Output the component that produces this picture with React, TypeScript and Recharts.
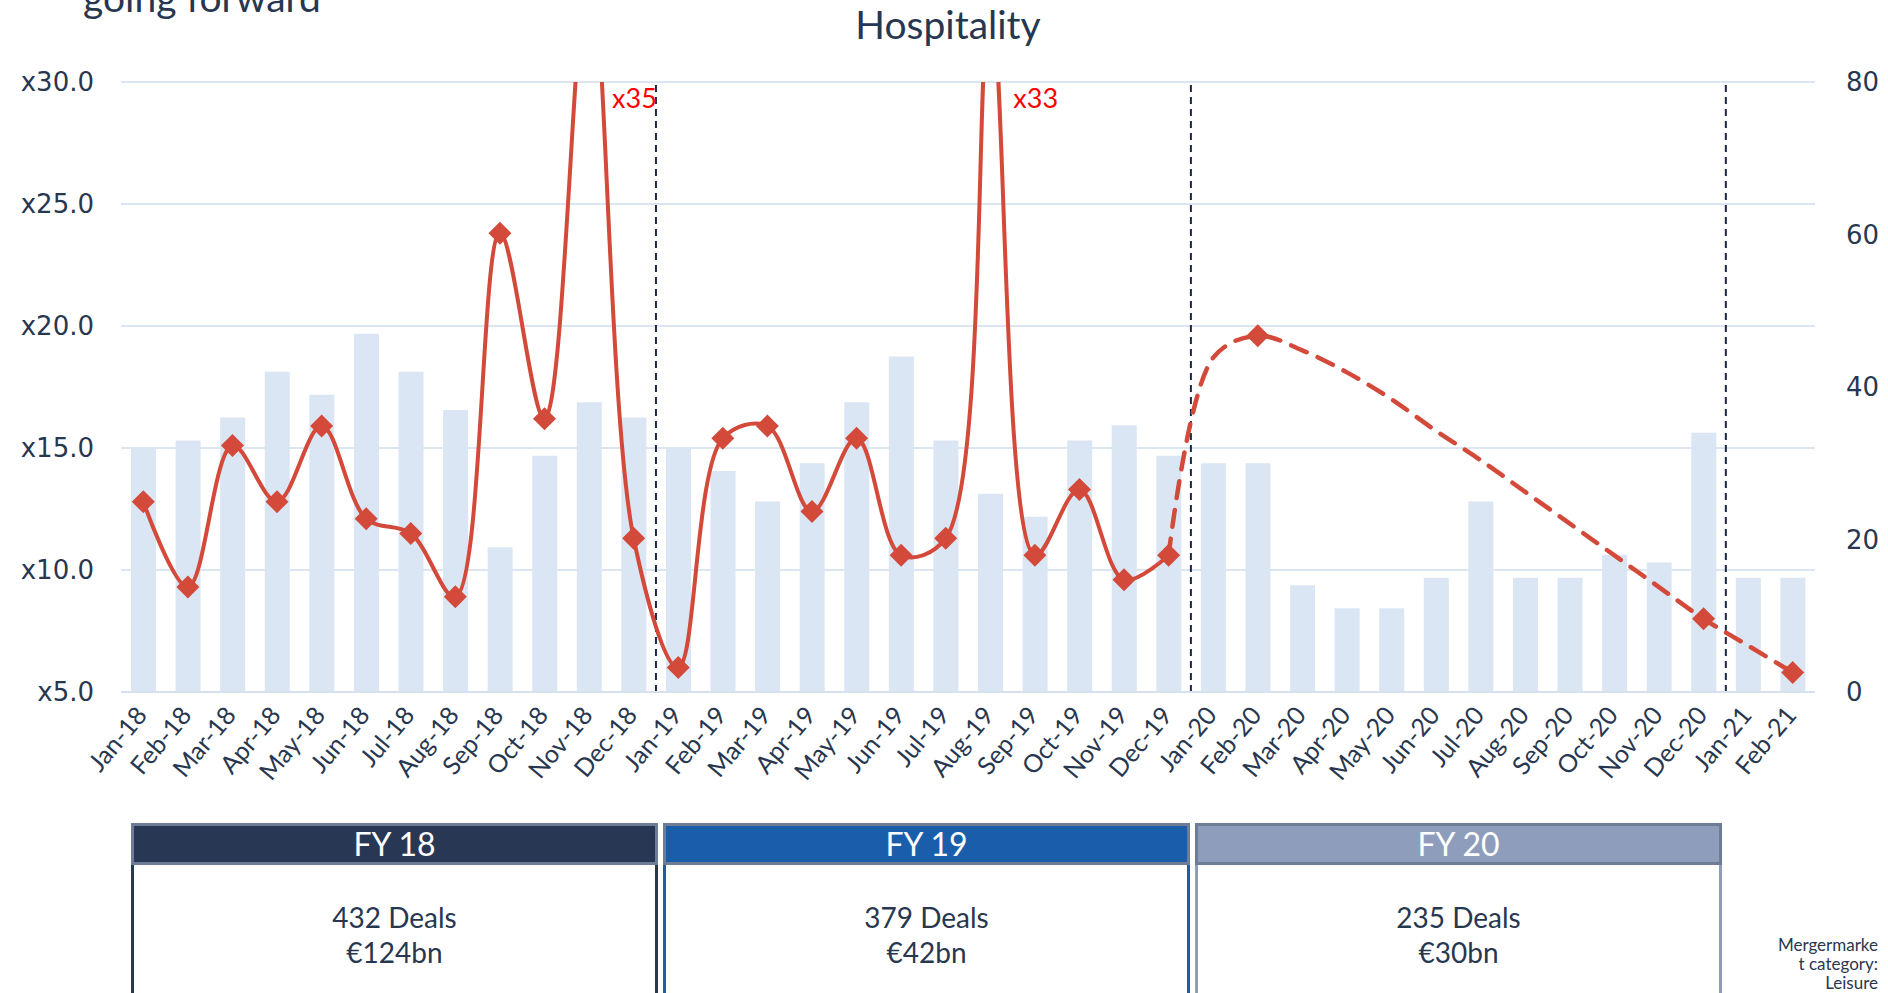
import React from 'react';
import { ComposedChart, Bar, Line, XAxis, YAxis, CartesianGrid, ReferenceLine } from 'recharts';

// months on the x axis
const months = [
  'Jan-18', 'Feb-18', 'Mar-18', 'Apr-18', 'May-18', 'Jun-18', 'Jul-18', 'Aug-18', 'Sep-18', 'Oct-18', 'Nov-18', 'Dec-18',
  'Jan-19', 'Feb-19', 'Mar-19', 'Apr-19', 'May-19', 'Jun-19', 'Jul-19', 'Aug-19', 'Sep-19', 'Oct-19', 'Nov-19', 'Dec-19',
  'Jan-20', 'Feb-20', 'Mar-20', 'Apr-20', 'May-20', 'Jun-20', 'Jul-20', 'Aug-20', 'Sep-20', 'Oct-20', 'Nov-20', 'Dec-20',
  'Jan-21', 'Feb-21',
];

// deal count per month (right axis)
const dealCounts = [
  32, 33, 36, 42, 39, 47, 42, 37, 19, 31, 38, 36,
  32, 29, 25, 30, 38, 44, 33, 26, 23, 33, 35, 31,
  30, 30, 14, 11, 11, 15, 25, 15, 15, 18, 17, 34,
  15, 15,
];

// EV multiple, actuals (left axis)
const evMultiple: (number | null)[] = [
  12.8, 9.3, 15.1, 12.8, 15.9, 12.1, 11.5, 8.9, 23.8, 16.2, 35, 11.3,
  6.0, 15.4, 15.9, 12.4, 15.4, 10.6, 11.3, 33, 10.6, 13.3, 9.6, 10.6,
  null, null, null, null, null, null, null, null, null, null, null, null,
  null, null,
];

// EV multiple, going forward (dashed)
const forecastMultiple: (number | null)[] = [
  null, null, null, null, null, null, null, null, null, null, null, null,
  null, null, null, null, null, null, null, null, null, null, null, 10.6,
  18.7, 19.6, 19.0, 18.1, 17.0, 15.7, 14.5, 13.2, 11.9, 10.6, 9.3, 8.0,
  6.9, 5.8,
];
const forecastMarked = ['Feb-20', 'Dec-20', 'Feb-21'];

const leftTicks = [5, 10, 15, 20, 25, 30];
const rightTicks = [0, 20, 40, 60, 80];
const yearEnds = ['Dec-18', 'Dec-19', 'Dec-20'];

const fyBoxes = [
  { label: 'FY 18', deals: '432 Deals', value: '€124bn', head: '#283753', edge: '#283753' },
  { label: 'FY 19', deals: '379 Deals', value: '€42bn', head: '#1A5DAB', edge: '#1A5DAB' },
  { label: 'FY 20', deals: '235 Deals', value: '€30bn', head: '#8E9DBB', edge: '#8E9DBB' },
];

const NAVY = '#283750';
const RED = '#D34A3A';

const data = months.map((month, i) => ({
  month,
  deals: dealCounts[i],
  multiple: evMultiple[i],
  forecast: forecastMultiple[i],
}));

// excel-like smoothed line: centripetal catmull-rom (less overshoot on uneven segments)
function smoothCurve(context: any) {
  let pts: number[][] = [];
  const dist = (a: number[], b: number[]) => Math.hypot(a[0] - b[0], a[1] - b[1]);
  return {
    areaStart() {},
    areaEnd() {},
    lineStart() { pts = []; },
    point(x: number, y: number) { pts.push([+x, +y]); },
    lineEnd() {
      if (!pts.length) return;
      context.moveTo(pts[0][0], pts[0][1]);
      for (let i = 0; i < pts.length - 1; i++) {
        const p0 = pts[i - 1];
        const p1 = pts[i];
        const p2 = pts[i + 1];
        const p3 = pts[i + 2];
        const l12 = dist(p1, p2);
        const l12a = Math.sqrt(l12);
        let c1 = [p1[0], p1[1]];
        let c2 = [p2[0], p2[1]];
        if (p0) {
          const l01 = dist(p0, p1);
          const l01a = Math.sqrt(l01);
          if (l01a > 1e-6) {
            const a = 2 * l01 + 3 * l01a * l12a + l12;
            const n = 3 * l01a * (l01a + l12a);
            c1 = [0, 1].map((k) => (p1[k] * a - p0[k] * l12 + p2[k] * l01) / n);
          }
        }
        if (p3) {
          const l23 = dist(p2, p3);
          const l23a = Math.sqrt(l23);
          if (l23a > 1e-6) {
            const b = 2 * l23 + 3 * l23a * l12a + l12;
            const m = 3 * l23a * (l23a + l12a);
            c2 = [0, 1].map((k) => (p2[k] * b + p1[k] * l23 - p3[k] * l12) / m);
          }
        }
        context.bezierCurveTo(c1[0], c1[1], c2[0], c2[1], p2[0], p2[1]);
      }
    },
  };
}

function diamond(cx: number, cy: number, key: any) {
  const r = 11.5;
  return <polygon key={key} points={`${cx},${cy - r} ${cx + r},${cy} ${cx},${cy + r} ${cx - r},${cy}`} fill={RED} />;
}

const solidDot = (p: any) => {
  if (p.value == null || p.cy == null) return <g key={p.key ?? p.index} />;
  return diamond(p.cx, p.cy, p.key ?? p.index);
};

const forecastDot = (p: any) => {
  if (p.value == null || p.cy == null || !forecastMarked.includes(p.payload.month)) return <g key={p.key ?? p.index} />;
  return diamond(p.cx, p.cy, p.key ?? p.index);
};

// red "x35" style label for the peaks that go off the chart
const peakLabel = (p: any) => {
  if (p.value == null || p.value <= 30) return <g key={p.index} />;
  return (
    <text key={p.index} x={p.x + 23} y={108} fill="#FF0000" fontSize={27} fontFamily="Lato">
      {'x' + p.value}
    </text>
  );
};

const MonthTick = (p: any) => {
  const x = p.x + 5;
  const y = p.y + 24;
  return (
    <text x={x} y={y} transform={`rotate(-50 ${x} ${y})`} textAnchor="end" fontSize={25} fill={NAVY} fontFamily="Lato">
      {p.payload.value}
    </text>
  );
};

export default function App() {
  return (
    <div style={{ position: 'relative', width: 1888, height: 993, overflow: 'hidden', background: '#fff', fontFamily: 'Lato, sans-serif', color: NAVY }}>
      <style>{'body{margin:0}'}</style>

      <ComposedChart width={1888} height={800} data={data} margin={{ top: 82, right: 0, bottom: 0, left: 0 }}>
        <CartesianGrid yAxisId="left" vertical={false} stroke="#DCE6F2" strokeWidth={2} />
        <XAxis
          dataKey="month"
          interval={0}
          height={108}
          tickLine={false}
          tickSize={0}
          tickMargin={0}
          axisLine={{ stroke: '#D6E0EE', strokeWidth: 2 }}
          tick={<MonthTick />}
        />
        <YAxis
          yAxisId="left"
          width={121}
          domain={[5, 30]}
          ticks={leftTicks}
          allowDataOverflow
          axisLine={false}
          tickLine={false}
          tickSize={0}
          tickMargin={27}
          tickFormatter={(v: number) => 'x' + v.toFixed(1)}
          tick={{ fontSize: 26, fill: NAVY, fontFamily: 'DejaVu Sans' }}
        />
        <YAxis
          yAxisId="right"
          orientation="right"
          width={73}
          domain={[0, 80]}
          ticks={rightTicks}
          axisLine={false}
          tickLine={false}
          tickSize={0}
          tickMargin={31}
          tick={{ fontSize: 26, fill: NAVY, fontFamily: 'DejaVu Sans', textAnchor: 'start' }}
        />
        <Bar yAxisId="right" dataKey="deals" fill="#DBE6F4" barSize={25} isAnimationActive={false} />
        {yearEnds.map((m) => (
          <ReferenceLine key={m} yAxisId="left" x={m} position="end" stroke="#1B2845" strokeWidth={2} strokeDasharray="7 5" />
        ))}
        <Line
          yAxisId="left"
          dataKey="multiple"
          type={smoothCurve as any}
          stroke={RED}
          strokeWidth={4}
          dot={solidDot}
          activeDot={false}
          label={peakLabel}
          isAnimationActive={false}
        />
        <Line
          yAxisId="left"
          dataKey="forecast"
          type={smoothCurve as any}
          stroke={RED}
          strokeWidth={4.5}
          strokeDasharray="17 12"
          strokeLinecap="round"
          dot={forecastDot}
          activeDot={false}
          isAnimationActive={false}
        />
      </ComposedChart>

      <svg width={1888} height={80} style={{ position: 'absolute', left: 0, top: 0, pointerEvents: 'none' }}>
        <text x={83} y={12} fontSize={39} fill={NAVY} fontFamily="Lato">going forward</text>
        <text x={948} y={39} fontSize={39} fill={NAVY} fontFamily="Lato" textAnchor="middle">Hospitality</text>
      </svg>

      {fyBoxes.map((b, i) => {
        const left = 131 + i * 532;
        return (
          <div key={b.label} style={{ position: 'absolute', left, top: 823, width: 527 }}>
            <div style={{ boxSizing: 'border-box', height: 42, background: b.head, border: '3px solid #6F7C95', color: '#fff', fontSize: 32, lineHeight: '36px', textAlign: 'center' }}>
              {b.label}
            </div>
            <div style={{ boxSizing: 'border-box', height: 200, borderLeft: `3px solid ${b.edge}`, borderRight: `3px solid ${b.edge}`, textAlign: 'center', fontSize: 28, lineHeight: '35px', paddingTop: 35 }}>
              <div>{b.deals}</div>
              <div>{b.value}</div>
            </div>
          </div>
        );
      })}

      <div style={{ position: 'absolute', right: 10, top: 935, fontSize: 17, lineHeight: '19px', textAlign: 'right' }}>
        Mergermarke<br />t category:<br />Leisure
      </div>
    </div>
  );
}
